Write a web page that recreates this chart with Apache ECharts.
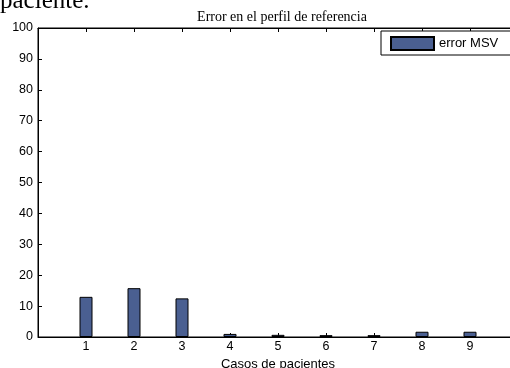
<!DOCTYPE html>
<html><head><meta charset="utf-8">
<script src="https://cdn.jsdelivr.net/npm/echarts@6/dist/echarts.min.js"></script>
<style>html,body{margin:0;padding:0;background:#fff}#c{width:510px;height:368px}</style>
</head><body><div id="c"></div>
<script>
const cases = [1, 2, 3, 4, 5, 6, 7, 8, 9];
const errorMSV = [13.0, 15.8, 12.5, 1.0, 0.7, 0.6, 0.6, 1.7, 1.7];
const yTicks = [0, 10, 20, 30, 40, 50, 60, 70, 80, 90, 100];
const seriesName = 'error MSV';
const titleText = 'Error en el perfil de referencia';
const xName = 'Casos de pacientes';
const pageText = 'paciente.';

const chart = echarts.init(document.getElementById('c'), null, {renderer: 'canvas'});
const font = 'Liberation Sans, Arial, sans-serif';
chart.setOption({
  animation: false,
  backgroundColor: '#fff',
  title: {
    text: titleText, left: 277, top: 5, textAlign: 'center',
    textStyle: {fontFamily: 'Liberation Serif, Times New Roman, serif', fontSize: 14, fontWeight: 'normal', color: '#000'}
  },
  graphic: [{
    type: 'text', left: 0, top: -11,
    style: {text: pageText, font: '25px "Liberation Serif", serif', fill: '#000'}
  }],
  legend: {
    left: 381, top: 31, orient: 'vertical',
    data: [seriesName],
    icon: 'rect',
    backgroundColor: '#fff', borderColor: '#000', borderWidth: 1,
    padding: [5, 60, 4, 9],
    itemWidth: 43, itemHeight: 13, itemGap: 0,
    textStyle: {fontFamily: font, fontSize: 13, color: '#000'}
  },
  grid: {left: 38, top: 28, width: 480, height: 309, show: true, borderColor: '#000', borderWidth: 1, containLabel: false, outerBoundsMode: 'none'},
  xAxis: [{
    type: 'value', min: 0, max: 10, interval: 1, position: 'bottom',
    name: xName, nameLocation: 'middle', nameGap: 19,
    nameTextStyle: {fontFamily: font, fontSize: 13, color: '#000'},
    axisLine: {show: true, lineStyle: {color: '#000', width: 1}},
    axisTick: {inside: true, length: 4, lineStyle: {color: '#000'}},
    axisLabel: {fontFamily: font, fontSize: 12.5, color: '#000', margin: 3,
      formatter: v => cases.indexOf(v) >= 0 ? String(v) : ''},
    splitLine: {show: false}
  }, {
    type: 'value', min: 0, max: 10, interval: 1, position: 'top',
    axisLine: {show: true, lineStyle: {color: '#000', width: 1}},
    axisTick: {inside: true, length: 4, lineStyle: {color: '#000'}},
    axisLabel: {show: false}, splitLine: {show: false}
  }],
  yAxis: {
    type: 'value', min: yTicks[0], max: yTicks[yTicks.length - 1], interval: 10,
    axisLine: {show: true, lineStyle: {color: '#000', width: 1}},
    axisTick: {inside: true, length: 4, lineStyle: {color: '#000'}},
    axisLabel: {fontFamily: font, fontSize: 12.5, color: '#000', margin: 5},
    splitLine: {show: false}
  },
  series: [{
    name: seriesName, type: 'bar', barWidth: 13, xAxisIndex: 0,
    data: cases.map((c, i) => [c, errorMSV[i]]),
    itemStyle: {color: '#4a5f91', borderColor: '#000', borderWidth: 1}
  }]
});
</script></body></html>
